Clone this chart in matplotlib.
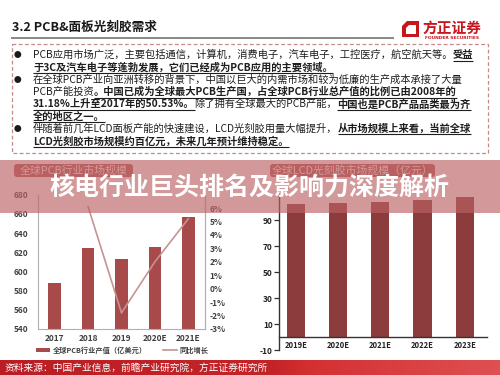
import matplotlib
matplotlib.use('Agg')
import matplotlib.pyplot as plt
from matplotlib.patches import Rectangle, FancyBboxPatch, Polygon, Patch
from matplotlib.lines import Line2D
import numpy as np

plt.rcParams['font.family'] = ['Noto Sans CJK SC', 'DejaVu Sans']

# ---------------- data ----------------
pcb_years = ['2017', '2018', '2019', '2020E', '2021E']
pcb_values = [588, 624, 613, 625, 657]
growth_years = ['2018', '2019', '2020E', '2021E']
growth_pct = [6.1, -1.8, 2.0, 5.2]
pcb_ylim = [540, 680]
pcb_yticks = [540, 560, 580, 600, 620, 640, 660, 680]
growth_ylim = [-3, 7]
growth_yticks = [-3, -2, -1, 0, 1, 2, 3, 4, 5, 6]

lcd_years = ['2019E', '2020E', '2021E', '2022E', '2023E']
lcd_values = [102.5, 103.0, 104.0, 105.5, 107.5]
lcd_ylim = [-10, 110]
lcd_yticks = [-10, 10, 30, 50, 70, 90]

page_title = '3.2 PCB&面板光刻胶需求'
banner_title = '核电行业巨头排名及影响力深度解析'
left_chart_title = '全球PCB行业市场规模'
right_chart_title = '全球LCD光刻胶市场规模（亿元）'
legend_labels = ['全球PCB行业产值（亿美元）', '同比增长']
source_text = '资料来源：中国产业信息，前瞻产业研究院，方正证券研究所'

bullet_lines = [
    (True, [("PCB应用市场广泛，主要包括通信，计算机，消费电子，汽车电子，工控医疗，航空航天等。", False), ("受益", True)]),
    (False, [("于3C及汽车电子等蓬勃发展，它们已经成为PCB应用的主要领域。", True)]),
    (True, [("在全球PCB产业向亚洲转移的背景下，中国以巨大的内需市场和较为低廉的生产成本承接了大量", False)]),
    (False, [("PCB产能投资", False), ("。中国已成为全球最大PCB生产国，占全球PCB行业总产值的比例已由2008年的", True)]),
    (False, [("31.18%上升至2017年的50.53%。", True), ("除了拥有全球最大的PCB产能，", False), ("中国也是PCB产品品类最为齐", True)]),
    (False, [("全的地区之一。", True)]),
    (True, [("伴随着前几年LCD面板产能的快速建设，LCD光刻胶用量大幅提升，", False), ("从市场规模上来看，当前全球", True)]),
    (False, [("LCD光刻胶市场规模约百亿元，未来几年预计维持稳定。", True)]),
]

W, H = 500, 375
fig = plt.figure(figsize=(5, 3.75), dpi=100)
fig.patch.set_facecolor('white')

# background (pixel coordinates)
bg = fig.add_axes([0, 0, 1, 1], zorder=0)
bg.set_xlim(0, W)
bg.set_ylim(H, 0)
bg.axis('off')

# header
bg.text(12, 27, page_title, fontsize=9.1, fontweight='bold', color='#1a1a1a', va='center', ha='left')
bg.plot([11, 394], [38, 38], color='#6a6a6a', lw=1.1, solid_capstyle='butt')
# logo
outer = Polygon([[407, 20.5], [419, 20.5], [419, 37], [402, 37], [402, 25.5]], closed=True, color='#c8161d', lw=0)
inner = Polygon([[409, 24.5], [415.5, 24.5], [415.5, 33.5], [405.5, 33.5], [405.5, 28]], closed=True, color='white', lw=0)
bg.add_patch(outer)
bg.add_patch(inner)
bg.text(452, 27.5, '方正证券', fontsize=10.6, fontweight='bold', color='#c8161d', va='center', ha='center')
bg.text(452.5, 37.8, 'FOUNDER SECURITIES', fontsize=3.2, fontweight='bold', color='#c8161d', va='center', ha='center',
        family=['DejaVu Sans'])

# dashed box
box = Rectangle((12, 44), 476, 108.5, fill=False, edgecolor='#c48a8a', lw=0.9, linestyle=(0, (3, 2)))
bg.add_patch(box)

renderer = fig.canvas.get_renderer()
fs = 7.4
y0, dy = 55.0, 12.3
for i, (bullet, segs) in enumerate(bullet_lines):
    y = y0 + i * dy
    if bullet:
        bg.text(17.5, y, '●', fontsize=5.5, color='#1a1a1a', va='center', ha='center')
    x = 33
    for s, bold in segs:
        t = bg.text(x, y, s, fontsize=fs, fontweight='bold' if bold else 'normal',
                    color='#1e1e1e', va='center', ha='left')
        w = t.get_window_extent(renderer=renderer).width
        if bold:
            bg.plot([x, x + w], [y + 5.6, y + 5.6], color='#1e1e1e', lw=0.8, solid_capstyle='butt')
        x += w

# chart title boxes
for (x0, x1, txt) in [(12, 135, left_chart_title), (268, 437, right_chart_title)]:
    bg.add_patch(FancyBboxPatch((x0 + 2, 164), x1 - x0 - 4, 13, boxstyle='round,pad=0,rounding_size=3',
                                fc='#b9605e', ec='none'))
    bg.text((x0 + x1) / 2, 170.5, txt, fontsize=7.8, color='white', va='center', ha='center')

# footer band with gradient
grad = np.linspace(0, 1, 256)
r = np.interp(grad, [0, 0.55, 0.62, 1.0], [186, 196, 212, 222])
g = np.interp(grad, [0, 0.55, 0.62, 1.0], [30, 36, 48, 80])
b = np.interp(grad, [0, 0.55, 0.62, 1.0], [36, 40, 50, 82])
img = np.stack([r, g, b], axis=-1)[None, :, :] / 255.0
bg.imshow(img, extent=[0, W, 375, 360], aspect='auto', zorder=1)
bg.set_xlim(0, W)
bg.set_ylim(H, 0)
bg.text(5, 367.5, source_text, fontsize=7.0, color='white', va='center', ha='left', zorder=2)

# ---------------- left chart ----------------
ax1 = fig.add_axes([38 / W, 1 - 329 / H, 167 / W, 134.4 / H], zorder=2)
ax1.set_facecolor('none')
for s in ['top']:
    ax1.spines[s].set_visible(False)
for s in ['left', 'right', 'bottom']:
    ax1.spines[s].set_color('#b0b0b0')
    ax1.spines[s].set_linewidth(0.8)
x_pcb = np.arange(len(pcb_years))
ax1.bar(x_pcb, pcb_values, width=0.38, color='#a84a4a', zorder=2)
ax1.set_xlim(-0.5, len(pcb_years) - 0.5)
ax1.set_ylim(*pcb_ylim)
ax1.set_yticks(pcb_yticks)
ax1.set_yticklabels([str(v) for v in pcb_yticks], fontsize=6, fontweight='bold', color='#404040')
ax1.set_xticks(x_pcb)
ax1.set_xticklabels(pcb_years, fontsize=6, fontweight='bold', color='#404040')
ax1.tick_params(axis='y', length=0, pad=7)
ax1.tick_params(axis='x', length=0, pad=3.5)

ax2 = ax1.twinx()
ax2.set_zorder(3)
ax2.spines['top'].set_visible(False)
ax2.spines['left'].set_visible(False)
ax2.spines['bottom'].set_visible(False)
ax2.spines['right'].set_color('#b0b0b0')
ax2.spines['right'].set_linewidth(0.8)
x_growth = [pcb_years.index(y) for y in growth_years]
ax2.plot(x_growth, growth_pct, color='#c49494', lw=1.2)
ax2.set_ylim(*growth_ylim)
ax2.set_yticks(growth_yticks)
ax2.set_yticklabels([f'{v}%' for v in growth_yticks], fontsize=6, fontweight='bold', color='#404040')
ax2.tick_params(axis='y', length=0, pad=3.5)

handles = [Patch(facecolor='#a84a4a', edgecolor='none', label=legend_labels[0]),
           Line2D([0], [0], color='#c49494', lw=1.2, label=legend_labels[1])]
ax1.legend(handles=handles, loc='center', bbox_to_anchor=(122 / W, 1 - 350 / H), bbox_transform=fig.transFigure,
           ncol=2, frameon=False, prop={'size': 5.2, 'weight': 'bold'}, handlelength=2.0, handleheight=0.5,
           handletextpad=0.3, columnspacing=2.2, labelcolor='#404040')

# ---------------- right chart ----------------
ax3 = fig.add_axes([279 / W, 1 - 350 / H, 208 / W, 156 / H], zorder=2)
ax3.set_facecolor('none')
ax3.spines['top'].set_visible(False)
ax3.spines['right'].set_visible(False)
ax3.spines['bottom'].set_position(('data', 0))
ax3.spines['bottom'].set_color('#333333')
ax3.spines['left'].set_color('#333333')
ax3.spines['bottom'].set_linewidth(1.0)
ax3.spines['left'].set_linewidth(1.0)
x_lcd = np.arange(len(lcd_years))
ax3.bar(x_lcd, lcd_values, width=0.43, color='#8c3c3c', zorder=2)
ax3.set_xlim(-0.40, 4.53)
ax3.set_ylim(*lcd_ylim)
ax3.set_yticks(lcd_yticks)
ax3.set_yticklabels([str(v) for v in lcd_yticks], fontsize=6, fontweight='bold', color='#222222')
ax3.set_xticks(x_lcd)
ax3.set_xticklabels(lcd_years, fontsize=5.5, fontweight='bold', color='#222222')
ax3.tick_params(axis='y', length=3.5, width=0.9, pad=1, color='#333333')
ax3.tick_params(axis='x', length=0, pad=3)

# ---------------- overlay banner ----------------
ov = fig.add_axes([0, 0, 1, 1], zorder=10)
ov.set_facecolor('none')
ov.set_xlim(0, W)
ov.set_ylim(H, 0)
ov.axis('off')
ov.add_patch(Rectangle((0, 160), W, 53, color='#bc6163', alpha=0.65, lw=0))
ov.text(250, 189, banner_title, fontsize=18, fontweight='bold', color='white', va='center', ha='center')

fig.savefig('out.png', dpi=100)
